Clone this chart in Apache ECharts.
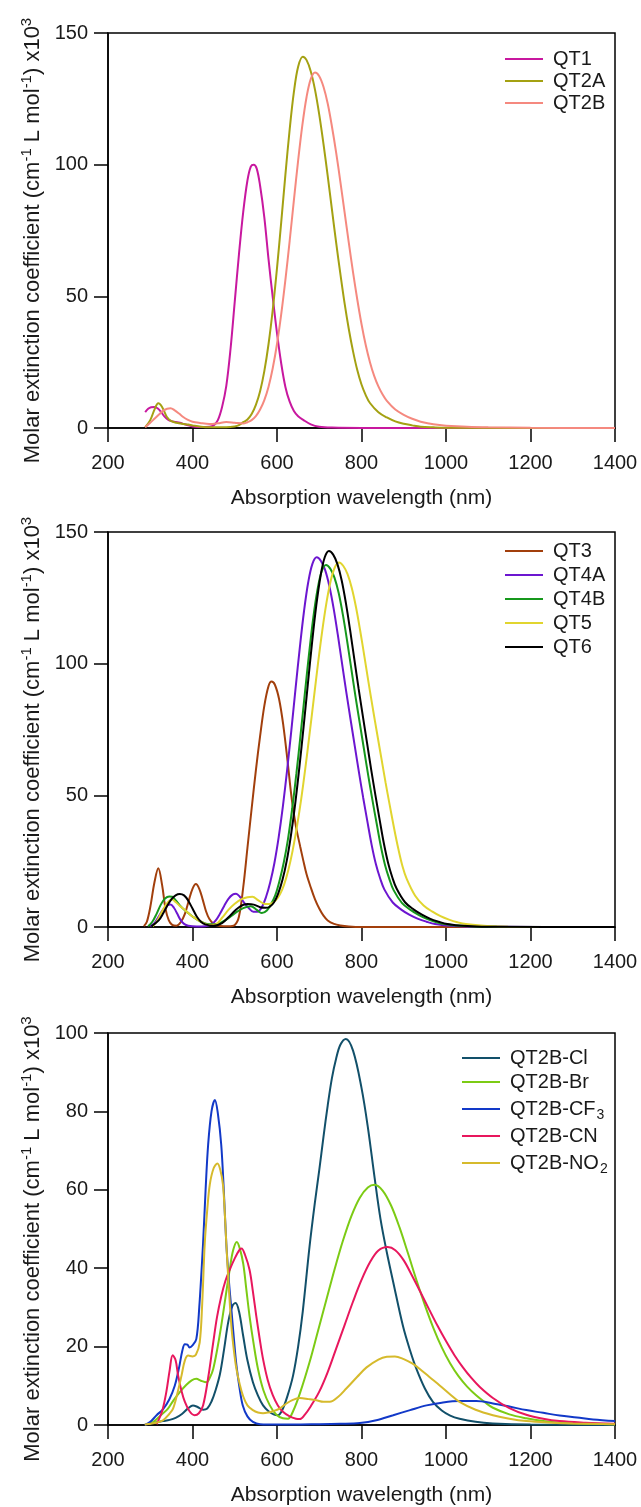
<!DOCTYPE html>
<html>
<head>
<meta charset="utf-8">
<script src="https://cdn.jsdelivr.net/npm/echarts@6/dist/echarts.min.js"></script>
<style>
html,body{margin:0;padding:0;background:#fff;}
#chart{width:641px;height:1507px;}
</style>
</head>
<body>
<div id="chart"></div>
<script>
// ---------- data: [wavelength (nm), molar extinction coefficient (x10^3)] ----------
const qt1 = [[288,6],[295,7.3],[302,7.9],[310,8],[318,7.4],[326,6],[334,4.3],[342,3.2],[350,2.6],[360,2.3],[370,2.0],[380,1.5],[390,1.0],[400,0.6],[420,0.35],[440,0.5],[450,1.0],[460,3],[470,8],[480,16],[490,30],[500,48],[510,66],[520,82],[530,94],[538,99.3],[545,100],[552,98.5],[560,92],[570,80],[580,64],[590,49.5],[600,36],[610,24.5],[620,15.5],[630,10],[640,6.5],[650,4.5],[663,3],[680,1.4],[700,0.5],[730,0.15],[800,0],[1400,0]];
const qt2a = [[288,0.3],[300,3],[310,7],[319,9.4],[328,8],[339,4.3],[350,2.6],[362,2],[375,1.6],[390,1.3],[400,1.0],[420,0.5],[440,0.3],[480,0.3],[500,0.6],[510,1.1],[520,2.2],[530,3.2],[540,5.3],[550,8.8],[560,14],[570,21.6],[580,31.9],[590,45],[600,60.7],[610,78.2],[620,96.4],[630,113.4],[640,127.6],[650,137.2],[661,141],[670,139.7],[680,135.4],[690,128.4],[700,119],[710,107.9],[720,95.7],[730,83],[740,70.4],[750,58.5],[760,47.3],[770,37.5],[780,29.1],[790,22],[800,16.5],[810,12.5],[820,9.5],[840,6],[860,4],[880,2.5],[900,1.6],[920,1.0],[940,0.5],[970,0.25],[1000,0.1],[1400,0]];
const qt2b = [[288,0.3],[300,2],[310,3.5],[320,5],[330,6.5],[340,7.3],[348,7.5],[358,6.7],[368,5.5],[378,4.2],[388,3.2],[400,2.4],[418,1.9],[440,1.5],[460,1.8],[480,2.3],[500,2.0],[520,1.7],[530,2.2],[540,3.0],[550,4.5],[560,7],[570,10.6],[580,15.7],[590,22.8],[600,31.9],[610,43.2],[620,56.4],[630,71.1],[640,86.5],[650,101.5],[660,115],[670,125.7],[680,132.6],[690,135],[700,133.6],[710,129.6],[720,123.2],[730,114.5],[740,104.6],[750,93.5],[760,81.9],[770,70.3],[780,59.1],[790,48.8],[800,39.5],[810,31.5],[820,25],[830,19.8],[840,15.8],[850,12.7],[860,10.3],[880,7],[900,5],[920,3.5],[940,2.4],[960,1.7],[980,1.2],[1000,0.9],[1050,0.5],[1100,0.3],[1200,0.1],[1400,0]];

const qt3 = [[285,0.3],[292,2],[300,7.5],[310,17],[319,22.3],[328,16],[336,7],[344,2.5],[352,0.8],[362,0.5],[372,1.8],[382,5],[392,10.5],[400,14.5],[408,16.3],[416,14.5],[424,10.5],[432,6],[440,3],[450,1.2],[465,0.4],[485,0.3],[500,0.8],[510,4],[520,15],[530,30],[540,45],[550,59.5],[560,72.5],[570,84],[580,91.5],[587,93.2],[595,92],[605,86.5],[615,76.5],[625,63],[635,48.5],[645,38],[655,30.5],[662,25.4],[670,20],[680,15],[690,10.5],[700,7],[710,4.3],[720,2.5],[735,1.2],[750,0.6],[770,0.2],[800,0],[1400,0]];
const qt4a = [[300,0.3],[310,1.5],[320,4],[330,6.5],[340,8.2],[348,8.5],[356,7.3],[364,5],[372,2.6],[380,1.2],[390,0.5],[410,0.2],[430,0.3],[445,1],[455,2.5],[465,5],[475,8],[485,10.7],[495,12.3],[503,12.6],[512,11.5],[522,9.3],[534,7],[544,5.8],[554,5.8],[564,7.5],[574,11.4],[584,17],[594,24.4],[604,34.1],[614,45.9],[624,59.7],[634,74.8],[644,90.7],[654,106.1],[664,120],[674,131],[684,138],[694,140.4],[704,139],[714,135.5],[724,129.4],[734,121],[744,110.9],[754,100],[764,89.2],[774,78.9],[784,68.8],[794,58.7],[804,49.1],[814,40],[824,31.2],[834,23.9],[844,18.5],[854,14.3],[874,9.3],[894,6.6],[914,4.6],[934,3.1],[954,2.0],[974,1.1],[994,0.7],[1044,0.2],[1100,0.05],[1400,0]];
const qt4b = [[295,0.3],[305,2],[315,5],[325,8.5],[335,10.8],[345,11.6],[352,11.5],[360,10.2],[370,8.2],[380,6.6],[390,5.3],[400,4],[420,2],[440,1],[460,1.2],[480,2.8],[500,5.2],[520,7.2],[538,7.9],[552,6.5],[564,5.3],[576,6.3],[586,8.7],[596,12.1],[606,17.6],[616,24.5],[626,33.4],[636,45],[646,58.4],[656,73.3],[666,88.8],[676,104],[686,117.6],[696,128.3],[706,135.2],[716,137.5],[726,136.1],[736,132.7],[746,126.8],[756,118.5],[766,108.6],[776,97.9],[786,87.3],[796,77.3],[806,67.4],[816,57.5],[826,48.1],[836,39.2],[846,30.5],[856,23.4],[866,18.2],[876,14],[896,9.1],[916,6.5],[936,4.5],[956,3.0],[976,1.9],[996,1.1],[1016,0.7],[1066,0.2],[1120,0.05],[1400,0]];
const qt5 = [[306,0.3],[315,2],[325,5],[335,8],[345,10],[352,10.4],[360,9.5],[370,8],[380,6.7],[390,5.3],[400,4],[420,2],[440,0.8],[455,1],[470,3.5],[485,6.5],[500,8.8],[515,10.5],[530,11.3],[542,11.5],[555,10.2],[567,9],[577,8.7],[587,9],[597,10.1],[607,12.4],[617,16.2],[627,21.7],[637,29],[647,37.9],[657,48.3],[667,60.2],[677,73.2],[687,86.6],[697,100],[707,112.4],[717,123.1],[727,131.4],[737,136.6],[747,138.4],[757,137.1],[767,134],[777,128.7],[787,121.4],[797,112.4],[807,102.6],[817,92.5],[827,82.8],[837,73.4],[847,64.1],[857,54.8],[867,46.1],[877,37.6],[887,29.8],[897,23.1],[907,18.3],[927,11.9],[947,8.2],[967,5.9],[987,4.1],[1007,2.8],[1027,1.8],[1047,1.1],[1097,0.4],[1147,0.1],[1400,0]];
const qt6 = [[303,0.3],[320,2.5],[330,5],[340,8],[350,10.5],[360,12],[370,12.5],[380,12],[390,10],[400,7],[410,4],[420,2],[430,1],[450,0.5],[470,1.5],[490,4.5],[510,7.5],[530,8.7],[545,8.5],[560,7.5],[573,7.3],[583,7.7],[593,9.4],[603,12.8],[613,17.9],[623,25.1],[633,34.8],[643,46.7],[653,60.7],[663,76.1],[673,92.2],[683,108],[693,122.1],[703,133.2],[713,140.4],[723,142.8],[733,141.4],[743,137.8],[753,131.7],[763,123.1],[773,112.8],[783,101.7],[793,90.7],[803,80.3],[813,70],[823,59.7],[833,50],[843,40.7],[853,31.7],[863,24.3],[873,18.8],[883,14.6],[903,9.4],[923,6.7],[943,4.7],[963,3.1],[983,2.0],[1003,1.1],[1023,0.7],[1073,0.2],[1130,0.05],[1400,0]];

const cl = [[290,0.2],[310,0.6],[330,1],[346,1.3],[360,1.8],[375,2.8],[390,4.3],[401,5],[412,4.6],[425,3.9],[435,4.2],[445,6],[455,9],[465,13],[475,19.5],[485,26.5],[495,30.5],[502,31.1],[510,29],[520,22.7],[530,16.5],[543,10.9],[555,7.5],[567,5],[580,3.5],[592,2.7],[602,2.5],[612,3.7],[625,7.5],[638,12.6],[650,20],[661,29],[677,45.5],[690,57],[700,65],[710,73.5],[720,81.5],[730,88.5],[740,93.5],[750,97],[763,98.5],[780,95.5],[800,86],[815,76],[831,63.1],[845,52.5],[860,44],[875,36.5],[898,25.3],[915,19],[930,14.3],[950,9.3],[969,5.9],[990,3.7],[1010,2.4],[1032,1.6],[1070,0.8],[1111,0.4],[1200,0.1],[1400,0]];
const br = [[297,0.2],[310,1],[325,2.5],[342,4.2],[355,6.3],[370,8.4],[385,10.2],[398,11.4],[409,11.8],[420,11.3],[433,10.9],[442,12.3],[449,14.3],[458,19],[468,25.3],[478,32.5],[488,39.6],[496,44.5],[505,46.7],[512,45],[520,41.2],[527,35],[535,27.8],[545,20.5],[555,14.3],[568,8.8],[583,5],[598,2.7],[614,1.7],[626,1.6],[638,3.5],[654,8],[677,16],[697,24],[717,32],[737,40],[756,47],[776,53.3],[796,58],[815,60.6],[831,61.3],[850,59.8],[870,56],[890,50.4],[910,43.8],[930,37],[950,30.6],[970,24.8],[990,19.8],[1010,15.7],[1030,12.4],[1050,9.8],[1072,7.5],[1092,5.8],[1111,4.4],[1150,2.7],[1190,1.7],[1230,1.0],[1269,0.6],[1348,0.3],[1400,0.2]];
const cf3 = [[287,0],[300,0.8],[315,2.5],[330,4],[345,6.5],[358,10],[368,14.5],[376,19],[382,20.6],[388,20.5],[393,19.8],[400,20.3],[409,21.9],[416,30],[425,46.3],[431,60],[437,71.5],[445,80],[453,82.9],[460,79.5],[468,71.5],[474,60],[480,46.3],[486,37],[492,29.5],[498,22],[504,15.2],[512,9],[519,5],[530,2.2],[543,0.8],[560,0.2],[600,0.1],[700,0.2],[750,0.3],[796,0.5],[835,1.2],[875,2.5],[915,3.8],[954,5],[990,5.7],[1032,6.1],[1072,6.1],[1111,5.5],[1150,4.7],[1190,3.8],[1230,3.1],[1269,2.4],[1310,1.9],[1348,1.4],[1400,1.0]];
const cn = [[315,0.2],[328,3.5],[338,8.4],[346,14],[353,17.8],[360,16.5],[366,12.6],[374,8.7],[382,5.9],[393,3.5],[405,2.5],[415,3],[425,5],[437,12],[449,21],[458,27.5],[468,32.8],[478,36.8],[488,39.6],[500,42.5],[510,44.5],[516,45],[524,43.5],[535,39.6],[543,34],[551,27.8],[559,22],[567,16.8],[578,11.5],[590,7.6],[602,5],[614,3.4],[630,2.2],[645,1.6],[654,1.5],[665,2.5],[680,4.8],[700,8.5],[720,13.5],[740,19.5],[760,25.5],[780,31.5],[800,37],[820,41.5],[840,44.5],[862,45.4],[880,44.6],[900,42],[920,38],[940,33.8],[960,29.5],[980,25.3],[1000,21.4],[1020,17.8],[1040,14.7],[1060,12],[1080,9.7],[1111,6.9],[1150,4.3],[1190,2.6],[1230,1.6],[1269,1.0],[1330,0.6],[1400,0.3]];
const no2 = [[287,0.1],[310,0.5],[330,1.2],[345,2.8],[354,4.2],[364,8],[374,12.6],[382,16.5],[390,17.7],[400,17.5],[408,17.9],[417,21],[423,31],[429,46.3],[435,55],[441,61.4],[450,65.5],[459,66.7],[466,65],[472,61.4],[476,55],[480,46.3],[486,35],[492,25.3],[498,19],[504,14.3],[512,10.3],[519,7.6],[530,5],[543,3.8],[555,3.2],[567,3],[580,3.2],[590,3.5],[606,4.2],[620,5.3],[635,6.3],[654,6.9],[675,6.6],[693,6.3],[710,5.9],[725,5.9],[745,7.2],[764,9.3],[790,12.3],[812,14.7],[840,16.7],[860,17.4],[879,17.5],[900,16.8],[920,15.7],[938,14.3],[960,12.3],[985,10.1],[1010,7.8],[1032,5.9],[1070,3.9],[1111,2.5],[1150,1.6],[1190,1.0],[1250,0.6],[1300,0.4],[1400,0.2]];

// series names / colours per panel
const panel1Names = ['QT1','QT2A','QT2B'];
const panel2Names = ['QT3','QT4A','QT4B','QT5','QT6'];
const panel3Names = ['QT2B-Cl','QT2B-Br','QT2B-CF3','QT2B-CN','QT2B-NO2'];
const panel1Data = [qt1, qt2a, qt2b];
const panel2Data = [qt3, qt4a, qt4b, qt5, qt6];
const panel3Data = [cl, br, cf3, cn, no2];
const panel1Colors = ['#c8189f','#a4a112','#f5897f'];
const panel2Colors = ['#a23f0c','#6c16d0','#16981c','#e1d52f','#000000'];
const panel3Colors = ['#12506a','#7ccb14','#1239c8','#e8175d','#d6ba2c'];
const yMax = [150, 150, 100];
const yInterval = [50, 50, 20];

const FONT = '"Liberation Sans", Arial, Helvetica, sans-serif';
const TXT = '#1a1a1a';
const panels = [
  {top: 33, height: 395, legendLeft: 500, legendTop: 44, legendGap: 2},
  {top: 532, height: 395, legendLeft: 500, legendTop: 536, legendGap: 4},
  {top: 1033, height: 397, legendLeft: 457, legendTop: 1043, legendGap: 4}
];

const yName = '{n|Molar extinction coefficient (cm}{s|-1}{n| L mol}{s|-1}{n|) x10}{s|3}';

const grids = panels.map(p => ({
  left: 108, right: 26, top: p.top, height: p.height,
  show: true, borderColor: '#000', borderWidth: 1.5, backgroundColor: 'rgba(0,0,0,0)'
}));
const xAxes = panels.map((p, i) => ({
  type: 'value', gridIndex: i, min: 200, max: 1400, interval: 200,
  name: 'Absorption wavelength (nm)', nameLocation: 'middle', nameGap: 60,
  nameTextStyle: {fontSize: 21, color: TXT, fontFamily: FONT},
  axisLine: {show: true, onZero: false, lineStyle: {color: '#000', width: 1.5}},
  axisTick: {show: true, inside: false, length: 14, lineStyle: {color: '#000', width: 1.5}},
  axisLabel: {fontSize: 20, color: TXT, fontFamily: FONT, margin: 25, formatter: v => String(v)},
  splitLine: {show: false}
}));
const yAxes = panels.map((p, i) => ({
  type: 'value', gridIndex: i, min: 0, max: yMax[i], interval: yInterval[i],
  name: yName, nameLocation: 'middle', nameGap: 62,
  nameTextStyle: {
    color: TXT, fontFamily: FONT, padding: [0, 20, 0, 0],
    rich: {
      n: {fontSize: 22, color: TXT, fontFamily: FONT, lineHeight: 26},
      s: {fontSize: 15, color: TXT, fontFamily: FONT, verticalAlign: 'top', lineHeight: 15}
    }
  },
  axisLine: {show: true, onZero: false, lineStyle: {color: '#000', width: 1.5}},
  axisTick: {show: true, inside: false, length: 14, lineStyle: {color: '#000', width: 1.5}},
  axisLabel: {fontSize: 20, color: TXT, fontFamily: FONT, margin: 20},
  splitLine: {show: false}
}));

const allNames = [panel1Names, panel2Names, panel3Names];
const allData = [panel1Data, panel2Data, panel3Data];
const allColors = [panel1Colors, panel2Colors, panel3Colors];

const series = [];
allNames.forEach((names, pi) => {
  names.forEach((nm, si) => {
    series.push({
      type: 'line', name: nm, xAxisIndex: pi, yAxisIndex: pi,
      data: allData[pi][si], smooth: 0.35, symbol: 'none', showSymbol: false,
      color: allColors[pi][si],
      lineStyle: {width: 2, color: allColors[pi][si]},
      z: 2 + si
    });
  });
});

function legendFmt(name) {
  if (name === 'QT2B-CF3') return '{n|QT2B-CF}{sub|3}';
  if (name === 'QT2B-NO2') return '{n|QT2B-NO}{sub|2}';
  return '{n|' + name + '}';
}

const legends = panels.map((p, i) => ({
  data: allNames[i], orient: 'vertical', left: p.legendLeft, top: p.legendTop,
  icon: 'rect', itemWidth: 38, itemHeight: 2.2, itemGap: p.legendGap,
  formatter: legendFmt,
  textStyle: {
    fontSize: 20, color: TXT, fontFamily: FONT,
    rich: {
      n: {fontSize: 20, color: TXT, fontFamily: FONT, lineHeight: 20, padding: [0,0,0,5]},
      sub: {fontSize: 14, color: TXT, fontFamily: FONT, height: 14, lineHeight: 20, padding: [12,0,0,1]}
    }
  },
  selectedMode: false
}));

const chart = echarts.init(document.getElementById('chart'), null, {renderer: 'canvas'});
chart.setOption({
  animation: false,
  backgroundColor: '#ffffff',
  grid: grids, xAxis: xAxes, yAxis: yAxes, legend: legends, series: series
});
</script>
</body>
</html>
